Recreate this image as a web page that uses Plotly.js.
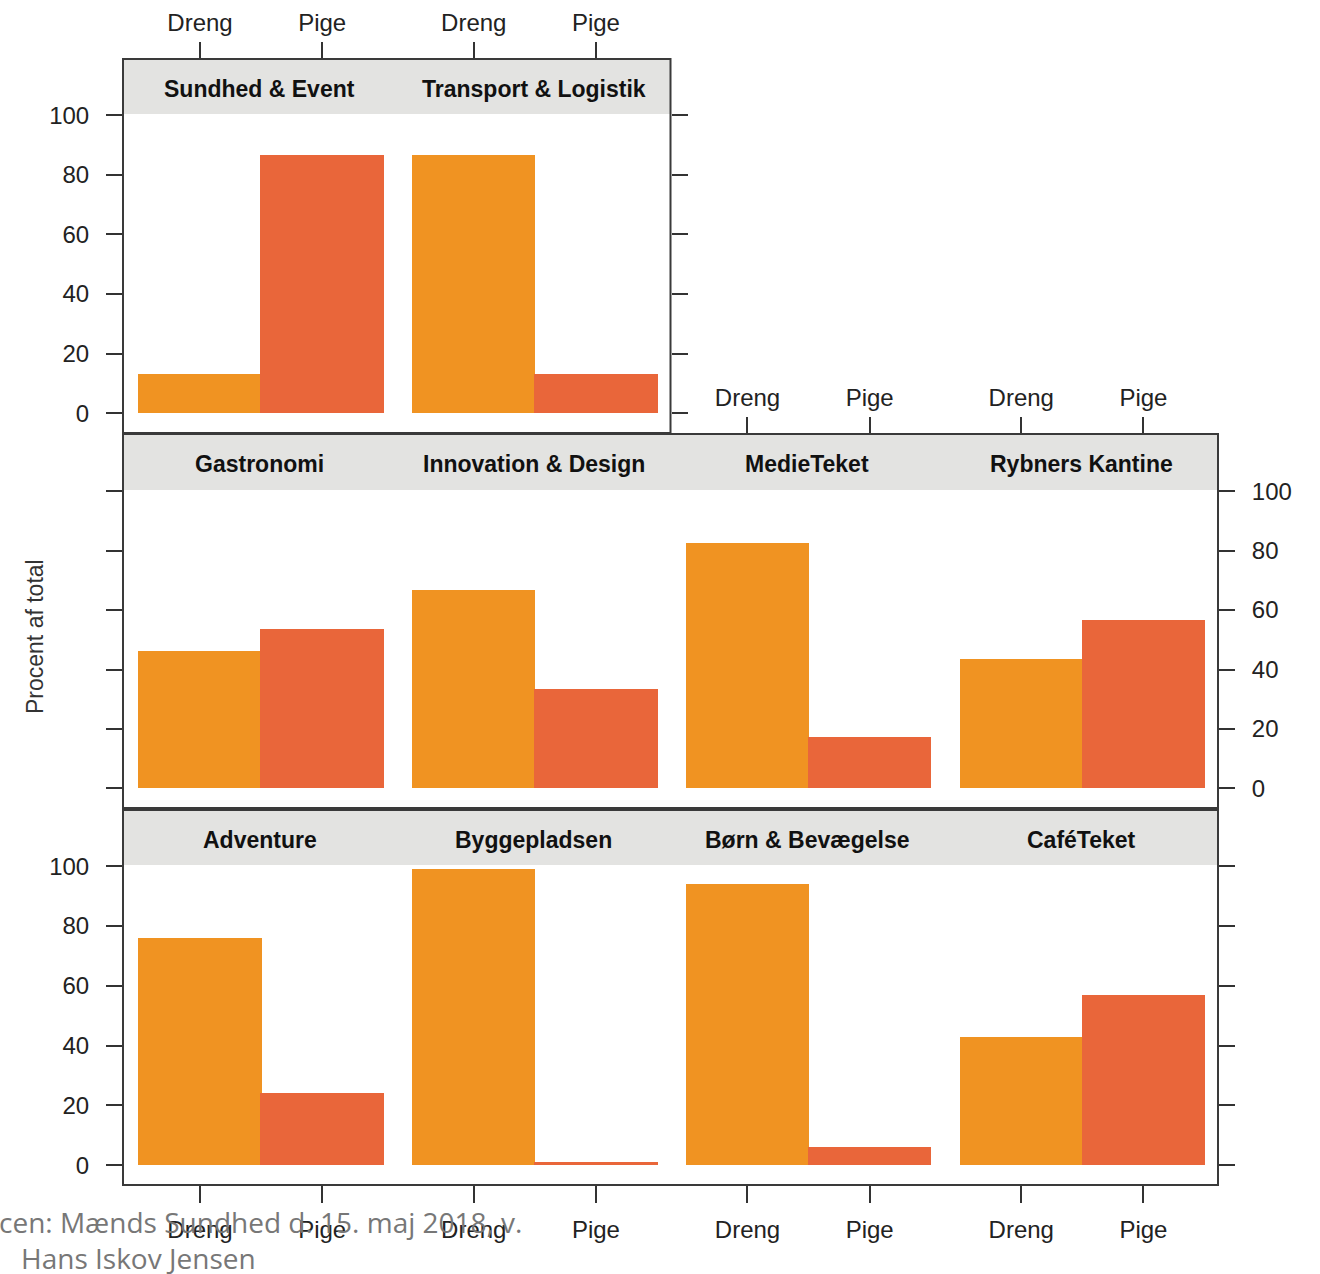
<!DOCTYPE html>
<html>
<head>
<meta charset="utf-8">
<script src="https://cdn.plot.ly/plotly-3.0.1.min.js"></script>
<style>html,body{margin:0;padding:0;background:#fff;}#chart{width:1320px;height:1274px;}</style>
</head>
<body>
<div id="chart"></div>
<script>
// ---- data ----
const panelNames = ['Sundhed & Event', 'Transport & Logistik', 'Gastronomi', 'Innovation & Design',
  'MedieTeket', 'Rybners Kantine', 'Adventure', 'Byggepladsen', 'Børn & Bevægelse', 'CaféTeket'];
const genders = ['Dreng', 'Pige'];
const drengPct = [13.2, 86.8, 46.2, 66.6, 82.7, 43.4, 76.0, 99.0, 94.2, 43.0];
const pigePct  = [86.8, 13.2, 53.5, 33.4, 17.3, 56.6, 24.0, 1.0, 6.2, 57.0];
const yTicks = [0, 20, 40, 60, 80, 100];
const yTitle = 'Procent af total';
const sourceLine1 = 'cen: Mænds Sundhed d. 15. maj 2018, v.';
const sourceLine2 = 'Hans Iskov Jensen';

// ---- layout helpers ----
const W = 1320, H = 1274;
const panelRow = [0, 0, 1, 1, 1, 1, 2, 2, 2, 2];
const panelCol = [0, 1, 0, 1, 2, 3, 0, 1, 2, 3];
const colEdges = [123, 396.75, 670.5, 944.25, 1218];
const rowPlot = [[114, 433], [490, 808], [865, 1185]];
const rowStripTop = [59, 434, 810];
const rowRight = [670.5, 1218, 1218];
const px = v => v / W;
const py = v => 1 - v / H;

const cDreng = '#F09322';
const cPige = '#E9663A';
const tickFont = {family: 'Liberation Sans, Arial, sans-serif', size: 24, color: '#222'};

const traces = [];
const layout = {
  width: W, height: H,
  margin: {l: 0, r: 0, t: 0, b: 0},
  paper_bgcolor: '#fff', plot_bgcolor: 'rgba(0,0,0,0)',
  showlegend: false, bargap: 0,
  shapes: [], annotations: []
};

panelNames.forEach((name, i) => {
  const r = panelRow[i], c = panelCol[i];
  const k = i === 0 ? '' : String(i + 1);
  traces.push({
    type: 'bar', x: genders, y: [drengPct[i], pigePct[i]],
    width: [1.01, 1.01],
    marker: {color: [cDreng, cPige], line: {width: 0}},
    xaxis: 'x' + k, yaxis: 'y' + k, hoverinfo: 'x+y'
  });

  // x axis
  let xShow = false, xSide = 'bottom', xFree = false;
  if (r === 0) { xShow = true; xSide = 'top'; xFree = true; }
  if (r === 1 && c >= 2) { xShow = true; xSide = 'top'; xFree = true; }
  if (r === 2) { xShow = true; xSide = 'bottom'; }
  const xa = {
    domain: [px(colEdges[c]), px(colEdges[c + 1])],
    type: 'category', categoryorder: 'array', categoryarray: genders,
    range: [-0.63, 1.61], showgrid: false, zeroline: false, showline: false,
    ticks: xShow ? 'outside' : '', ticklen: 17, tickwidth: 2, tickcolor: '#333',
    showticklabels: xShow, side: xSide, tickfont: tickFont,
    ticklabelstandoff: xSide === 'top' ? 1 : 6,
    fixedrange: true
  };
  if (xFree) { xa.anchor = 'free'; xa.position = py(rowStripTop[r]); }
  else { xa.anchor = 'y' + k; }
  layout['xaxis' + k] = xa;

  // y axis
  let yTicksOn = false, yLabels = false, ySide = 'left';
  if (c === 0) { yTicksOn = true; yLabels = (r !== 1); ySide = 'left'; }
  const lastCol = (r === 0) ? 1 : 3;
  if (c === lastCol) { yTicksOn = true; yLabels = (r === 1); ySide = 'right'; }
  layout['yaxis' + k] = {
    domain: [py(rowPlot[r][1]), py(rowPlot[r][0])],
    anchor: 'x' + k, range: [-6.6, 100.4],
    tickmode: 'array', tickvals: yTicks, ticktext: yTicks.map(String),
    showgrid: false, zeroline: false, showline: false,
    ticks: yTicksOn ? 'outside' : '', ticklen: 16, tickwidth: 2, tickcolor: '#333',
    showticklabels: yLabels, side: ySide, tickfont: tickFont, ticklabelstandoff: 12,
    fixedrange: true
  };

  // strip label
  layout.annotations.push({
    xref: 'paper', yref: 'paper',
    x: px((colEdges[c] + colEdges[c + 1]) / 2),
    y: py((rowStripTop[r] + rowPlot[r][0]) / 2 + 2),
    text: name, showarrow: false, xanchor: 'center', yanchor: 'middle',
    font: {family: 'Liberation Sans, Arial, sans-serif', size: 23, color: '#111', weight: 700}
  });
});

// strips and frames
for (let r = 0; r < 3; r++) {
  layout.shapes.push({
    type: 'rect', xref: 'paper', yref: 'paper', layer: 'below',
    x0: px(colEdges[0]), x1: px(rowRight[r]),
    y0: py(rowStripTop[r]), y1: py(rowPlot[r][0]),
    fillcolor: '#E3E3E1', line: {width: 0}
  });
  layout.shapes.push({
    type: 'rect', xref: 'paper', yref: 'paper', layer: 'above',
    x0: px(colEdges[0]), x1: px(rowRight[r]),
    y0: py(rowStripTop[r]), y1: py(rowPlot[r][1]),
    fillcolor: 'rgba(0,0,0,0)', line: {color: '#3a3a3a', width: 2}
  });
}

// y title
layout.annotations.push({
  xref: 'paper', yref: 'paper', x: px(35), y: py(637),
  text: yTitle, textangle: -90, showarrow: false,
  xanchor: 'center', yanchor: 'middle',
  font: {family: 'Liberation Sans, Arial, sans-serif', size: 23, color: '#333'}
});
// source text
layout.annotations.push({
  xref: 'paper', yref: 'paper', x: px(-3), y: py(1222),
  text: sourceLine1, showarrow: false, xanchor: 'left', yanchor: 'middle',
  font: {family: 'Open Sans, sans-serif', size: 28, color: '#777'}
});
layout.annotations.push({
  xref: 'paper', yref: 'paper', x: px(19), y: py(1258),
  text: sourceLine2, showarrow: false, xanchor: 'left', yanchor: 'middle',
  font: {family: 'Open Sans, sans-serif', size: 28, color: '#777'}
});

Plotly.newPlot('chart', traces, layout, {displayModeBar: false, staticPlot: true});
</script>
</body>
</html>
